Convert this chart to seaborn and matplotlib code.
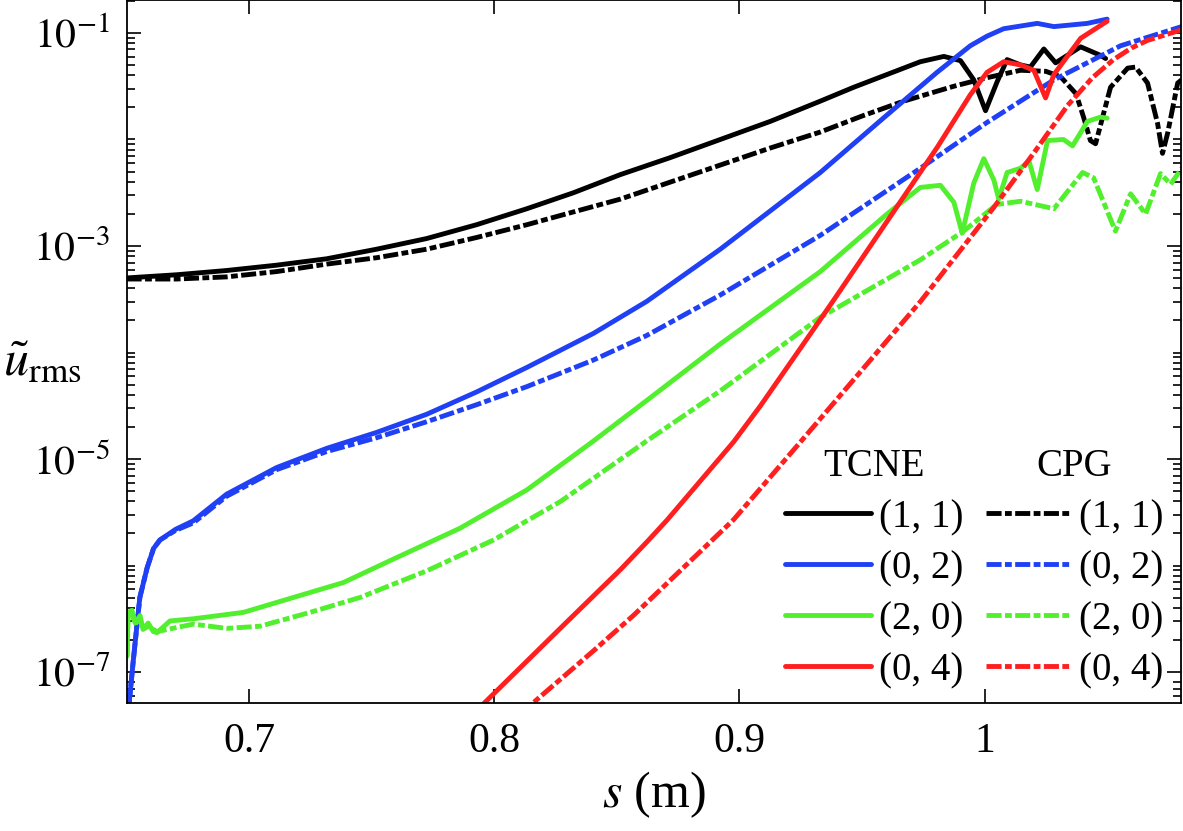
import matplotlib
matplotlib.use("Agg")
import matplotlib.pyplot as plt
from matplotlib.lines import Line2D
from matplotlib.ticker import FixedLocator, FixedFormatter, NullFormatter
import numpy as np
import pandas as pd
import seaborn as sns

# values: s in metres, u_rms given as log10 exponents
MODES = ["(1, 1)", "(0, 2)", "(2, 0)", "(0, 4)"]
MODELS = ["TCNE", "CPG"]
COLORS = {"(1, 1)": "#000000", "(0, 2)": "#1f40f5", "(2, 0)": "#52ef2e", "(0, 4)": "#ff1f1f"}

s_tcne_11 = [0.650, 0.6704, 0.6908, 0.7112, 0.7316, 0.752, 0.7724, 0.7928, 0.8133, 0.8323, 0.8514,
             0.8718, 0.8922, 0.9126, 0.933, 0.9466, 0.9602, 0.9738, 0.9834, 0.9902, 0.9956, 1.0004,
             1.0051, 1.0092, 1.0147, 1.0187, 1.0242, 1.029, 1.0392, 1.0473, 1.0494]
lg_tcne_11 = [-3.30, -3.27, -3.23, -3.18, -3.12, -3.03, -2.93, -2.80, -2.65, -2.50, -2.33,
              -2.17, -2.00, -1.83, -1.64, -1.51, -1.39, -1.27, -1.22, -1.26, -1.44, -1.73,
              -1.46, -1.25, -1.30, -1.32, -1.15, -1.28, -1.13, -1.21, -1.24]

s_cpg_11 = [0.650, 0.6704, 0.6908, 0.7112, 0.7316, 0.752, 0.7724, 0.7928, 0.8133, 0.8323, 0.8514,
            0.8718, 0.8922, 0.9126, 0.933, 0.950, 0.967, 0.9875, 1.001, 1.0147, 1.025, 1.031,
            1.0373, 1.0404, 1.0432, 1.0453, 1.0514, 1.0584, 1.0616, 1.0665, 1.0706, 1.0726, 1.0747,
            1.0788, 1.0804]
lg_cpg_11 = [-3.31, -3.31, -3.29, -3.24, -3.17, -3.11, -3.03, -2.92, -2.80, -2.68, -2.56,
             -2.40, -2.24, -2.08, -1.93, -1.78, -1.64, -1.50, -1.42, -1.35, -1.36, -1.41,
             -1.57, -1.79, -2.01, -2.04, -1.51, -1.33, -1.32, -1.47, -1.85, -2.13, -1.94,
             -1.47, -1.44]

s_tcne_02 = [0.6506, 0.6527, 0.6554, 0.6584, 0.6610, 0.6636, 0.6700, 0.6772, 0.6908, 0.7112, 0.7316,
             0.752, 0.7724, 0.7928, 0.8133, 0.8405, 0.8622, 0.8922, 0.933, 0.9602, 0.9806, 0.9942,
             1.001, 1.0078, 1.0215, 1.0283, 1.0419, 1.05]
lg_tcne_02 = [-7.40, -6.90, -6.30, -6.02, -5.84, -5.76, -5.66, -5.58, -5.33, -5.08, -4.90,
              -4.75, -4.58, -4.37, -4.14, -3.82, -3.52, -3.03, -2.31, -1.77, -1.37, -1.12,
              -1.03, -0.96, -0.91, -0.94, -0.91, -0.87]

s_cpg_02 = [0.6506, 0.6527, 0.6554, 0.6584, 0.6610, 0.6636, 0.6700, 0.6772, 0.6908, 0.7112, 0.7316,
            0.752, 0.7724, 0.7928, 0.8133, 0.8405, 0.8622, 0.8922, 0.933, 0.9738, 1.001, 1.0283,
            1.0555, 1.0804]
lg_cpg_02 = [-7.40, -6.90, -6.30, -6.02, -5.84, -5.76, -5.67, -5.60, -5.35, -5.10, -4.93,
             -4.80, -4.65, -4.49, -4.32, -4.07, -3.84, -3.46, -2.90, -2.27, -1.84, -1.44,
             -1.12, -0.94]

s_tcne_20 = [0.6502, 0.6506, 0.6522, 0.6535, 0.6555, 0.6567, 0.6588, 0.6609, 0.6624, 0.6677, 0.6772,
             0.6976, 0.718, 0.7384, 0.7588, 0.786, 0.8133, 0.8405, 0.8622, 0.8922, 0.933, 0.9602,
             0.9738, 0.982, 0.9875, 0.9909, 0.9956, 0.9997, 1.0038, 1.0058, 1.0092, 1.0147, 1.0181,
             1.0215, 1.0257, 1.0322, 1.0359, 1.042, 1.0473, 1.05]
lg_tcne_20 = [-6.85, -6.44, -6.42, -6.54, -6.47, -6.60, -6.54, -6.62, -6.63, -6.52, -6.50,
              -6.44, -6.30, -6.16, -5.94, -5.65, -5.29, -4.83, -4.45, -3.92, -3.24, -2.70,
              -2.45, -2.43, -2.59, -2.88, -2.41, -2.18, -2.38, -2.56, -2.31, -2.27, -2.20,
              -2.47, -2.01, -2.00, -2.06, -1.83, -1.79, -1.80]

s_cpg_20 = [0.6502, 0.6506, 0.6522, 0.6535, 0.6555, 0.6567, 0.6588, 0.6624, 0.6772, 0.6908, 0.7044,
            0.7248, 0.7452, 0.7724, 0.7997, 0.8269, 0.8622, 0.8922, 0.933, 0.9738, 0.9915, 1.005,
            1.0147, 1.0283, 1.0400, 1.0445, 1.0534, 1.0596, 1.0657, 1.0718, 1.0759, 1.0808]
lg_cpg_20 = [-6.85, -6.46, -6.45, -6.55, -6.50, -6.60, -6.57, -6.62, -6.55, -6.59, -6.57,
             -6.44, -6.30, -6.05, -5.76, -5.40, -4.83, -4.36, -3.67, -3.13, -2.86, -2.61,
             -2.58, -2.65, -2.31, -2.36, -2.86, -2.51, -2.70, -2.32, -2.42, -2.26]

s_tcne_04 = [0.7911, 0.8269, 0.8514, 0.8622, 0.8706, 0.8976, 0.9086, 0.9249, 0.9384, 0.9602, 0.9808,
             0.9942, 1.001, 1.0078, 1.0147, 1.0201, 1.0249, 1.0283, 1.0392, 1.05]
lg_tcne_04 = [-7.40, -6.59, -6.04, -5.78, -5.57, -4.84, -4.50, -3.96, -3.51, -2.77, -2.07,
              -1.58, -1.37, -1.27, -1.30, -1.35, -1.61, -1.39, -1.05, -0.89]

s_cpg_04 = [0.8107, 0.8173, 0.8405, 0.8567, 0.8976, 0.9249, 0.9739, 1.0037, 1.0200, 1.0339, 1.0440,
            1.0526, 1.0600, 1.0665, 1.0804]
lg_cpg_04 = [-7.40, -7.26, -6.80, -6.47, -5.57, -4.84, -3.52, -2.64, -2.13, -1.68, -1.42,
             -1.25, -1.14, -1.07, -0.97]

SERIES = [
    ("(1, 1)", "TCNE", s_tcne_11, lg_tcne_11), ("(1, 1)", "CPG", s_cpg_11, lg_cpg_11),
    ("(0, 2)", "TCNE", s_tcne_02, lg_tcne_02), ("(0, 2)", "CPG", s_cpg_02, lg_cpg_02),
    ("(2, 0)", "TCNE", s_tcne_20, lg_tcne_20), ("(2, 0)", "CPG", s_cpg_20, lg_cpg_20),
    ("(0, 4)", "TCNE", s_tcne_04, lg_tcne_04), ("(0, 4)", "CPG", s_cpg_04, lg_cpg_04),
]

Y_MAJOR = [1e-7, 1e-5, 1e-3, 1e-1]
Y_MAJOR_LABELS = [r"$10^{-7}$", r"$10^{-5}$", r"$10^{-3}$", r"$10^{-1}$"]
X_TICKS = [0.7, 0.8, 0.9, 1.0]
X_TICK_LABELS = ["0.7", "0.8", "0.9", "1"]

LW = 3.5
DASHDOT = (3.1, 0.7, 1.4, 0.7)

rows = []
for mode, model, s_vals, lg_vals in SERIES:
    for s, lg in zip(s_vals, lg_vals):
        rows.append([mode, model, s, 10.0 ** lg])
df = pd.DataFrame(rows, columns=["mode", "model", "s", "u"])

sns.set_theme(style="ticks")
plt.rcParams["font.family"] = ["Liberation Serif", "DejaVu Serif"]
plt.rcParams["mathtext.fontset"] = "stix"
for key in ["text.color", "axes.labelcolor", "xtick.color", "ytick.color", "axes.edgecolor"]:
    plt.rcParams[key] = "black"

fig = plt.figure(figsize=(11.83, 8.31), dpi=100)
ax = fig.add_axes([0.107, 0.154, 0.891, 0.846])

sns.lineplot(data=df, x="s", y="u", hue="mode", style="model", hue_order=MODES,
             style_order=MODELS, palette=COLORS, dashes={"TCNE": "", "CPG": DASHDOT},
             sort=False, estimator=None, lw=LW, legend=False, ax=ax)

ax.set_yscale("log")
ax.set_xlim(0.65, 1.08)
ax.set_ylim(5.12e-8, 0.204)

minor = [k * 10.0 ** e for e in range(-8, 0) for k in range(1, 10)]
minor = [m for m in minor if not any(np.isclose(m, M) for M in Y_MAJOR)]
ax.yaxis.set_major_locator(FixedLocator(Y_MAJOR))
ax.yaxis.set_major_formatter(FixedFormatter(Y_MAJOR_LABELS))
ax.yaxis.set_minor_locator(FixedLocator(minor))
ax.yaxis.set_minor_formatter(NullFormatter())
ax.set_xticks(X_TICKS)
ax.set_xticklabels(X_TICK_LABELS)

ax.tick_params(which="both", direction="in", top=True, right=True, width=1.2, colors="black")
ax.tick_params(which="major", length=10, labelsize=30)
ax.tick_params(which="minor", length=6)
ax.tick_params(axis="x", pad=14)
ax.tick_params(axis="y", pad=12)
for sp in ax.spines.values():
    sp.set_linewidth(1.3)
    sp.set_color("black")

ax.set_xlabel(r"$s$ (m)", fontsize=36, labelpad=6)
ax.set_ylabel(r"$\tilde{u}_{\mathrm{rms}}$", fontsize=36, rotation=0, va="center", ha="center")
ax.yaxis.set_label_coords(-0.08, 0.484)

labels = MODES
h_solid = [Line2D([], [], color=COLORS[m], lw=LW) for m in MODES]
h_dash = [Line2D([], [], color=COLORS[m], lw=LW, dashes=DASHDOT) for m in MODES]
leg_kw = dict(loc="lower left", frameon=False, fontsize=28, title_fontsize=28,
              handlelength=2.2, handletextpad=0.2, labelspacing=0.36, borderpad=0,
              borderaxespad=0)
leg1 = ax.legend(h_solid, labels, title="TCNE", bbox_to_anchor=(0.625, 0.02), **leg_kw)
ax.add_artist(leg1)
ax.legend(h_dash, labels, title="CPG", bbox_to_anchor=(0.815, 0.02), **leg_kw)

fig.savefig("out.png", dpi=100)
